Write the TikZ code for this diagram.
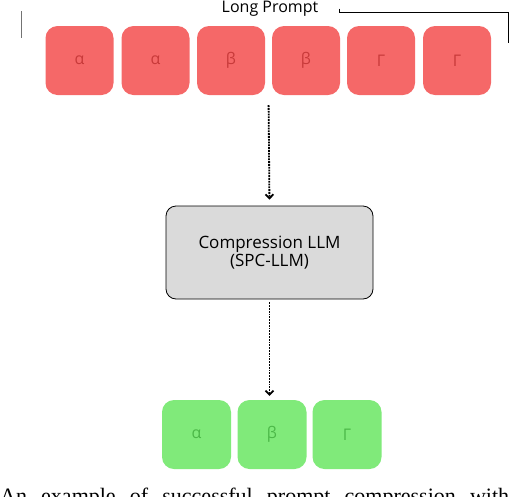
\documentclass[tikz,border=0pt]{standalone}
\usepackage{fontspec}
\setmainfont{Liberation Serif}
\newfontfamily\uisans{Open Sans}
\usetikzlibrary{arrows.meta,positioning,calc}
\definecolor{tokRed}{RGB}{245,104,104}
\definecolor{tokRedTxt}{RGB}{200,58,58}
\definecolor{tokGreen}{RGB}{128,234,122}
\definecolor{tokGreenTxt}{RGB}{76,184,72}
\definecolor{llmGray}{RGB}{218,218,218}

\begin{document}
\begin{tikzpicture}[
  x=1pt, y=-1pt,
  redtok/.style={fill=tokRed, rounded corners=12pt, minimum width=68pt, minimum height=69pt, inner sep=0pt, text=tokRedTxt, font=\uisans\fontsize{16}{18}\selectfont},
  greentok/.style={fill=tokGreen, rounded corners=12pt, minimum width=69pt, minimum height=69pt, inner sep=0pt, text=tokGreenTxt, font=\uisans\fontsize{16}{18}\selectfont},
  llmbox/.style={draw=black, line width=0.8pt, fill=llmGray, rounded corners=10pt, minimum width=207pt, minimum height=93pt, align=center, font=\uisans\fontsize{17}{18}\selectfont},
  arr/.style={-{Straight Barb[length=4pt, width=8pt]}, densely dotted, line width=1.8pt, black},
  brk/.style={line width=0.8pt}
]
  \clip (0,0) rectangle (522,496);
  \useasboundingbox (0,0) rectangle (522,496);

  % long prompt: six tokens
  \node[font=\uisans\fontsize{16}{18}\selectfont, inner sep=0pt, anchor=base] (lp) at (270,12.5) {Long Prompt};
  \node[redtok] (r1) at (79.5,60.5) {α};
  \node[redtok] (r2) at (155.5,60.5) {α};
  \node[redtok] (r3) at (231,60.5) {β};
  \node[redtok] (r4) at (306,60.5) {β};
  \node[redtok] (r5) at (381,60.5) {Γ};
  \node[redtok] (r6) at (457,60.5) {Γ};

  % bracket around the prompt
  \coordinate (bl) at (21,11);
  \coordinate (br) at (508,12);
  \draw[brk, black!55] (bl) -- ++(0,27);
  \draw[brk] ($(lp.east)+(21,0)$) |- (br) -- ++(0,31);

  % compression model
  \node[llmbox] (llm) at (269.5,252.5) {Compression LLM\\(SPC-LLM)};

  % short prompt: three tokens
  \node[greentok] (g1) at (196.5,434.5) {α};
  \node[greentok] (g2) at (272,434.5) {β};
  \node[greentok] (g3) at (347,434.5) {Γ};

  \draw[arr, shorten <=10pt, shorten >=6pt] ($(r3.south)!0.5!(r4.south)$) -- (llm.north);
  \draw[arr, shorten <=3pt, shorten >=4pt] (llm.south) -- (llm.south |- g2.north);

  % caption, cut by the frame
  \node[anchor=base west, inner sep=0pt, font=\fontsize{22}{26}\selectfont] (cap) at (0,503)
    {\makebox[550pt][s]{An example of successful prompt compression with the}};
\end{tikzpicture}
\end{document}
